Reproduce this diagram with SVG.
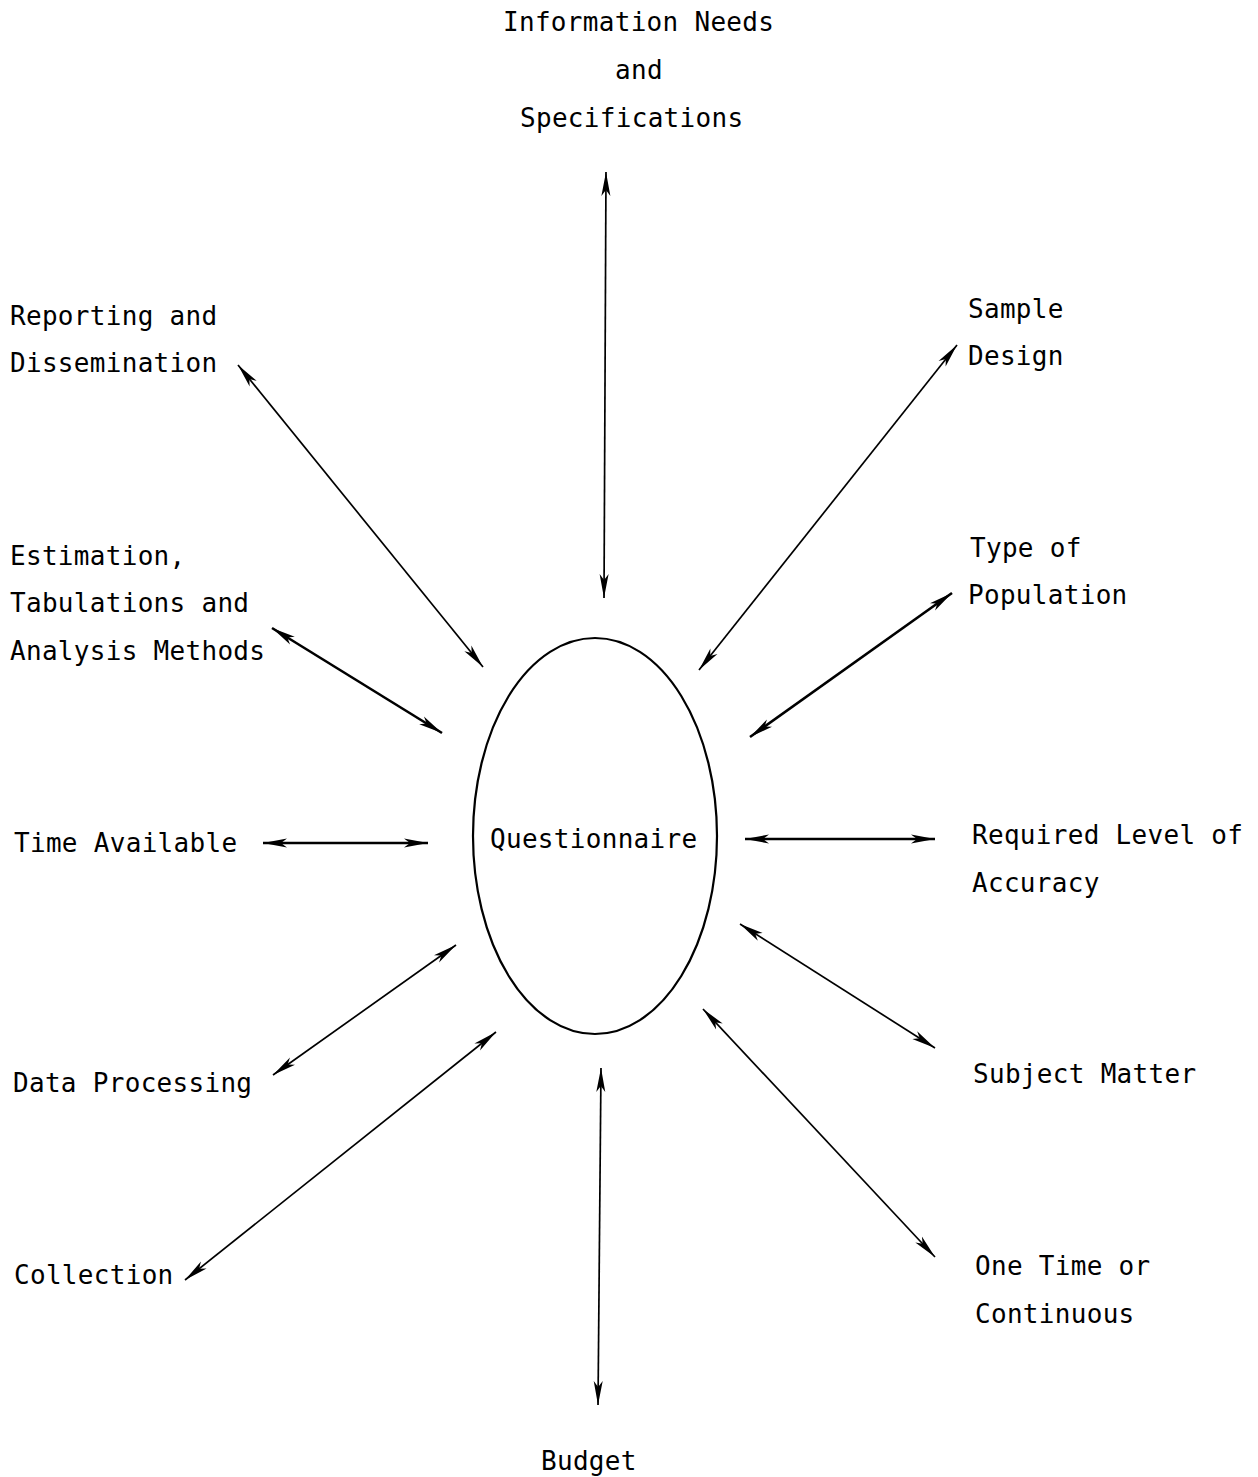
<svg xmlns="http://www.w3.org/2000/svg" width="1258" height="1477" viewBox="0 0 1258 1477">
<style>
text{font-family:"DejaVu Sans Mono","Liberation Mono",monospace;font-size:26px;letter-spacing:0.3px;fill:#000}
.c{stroke:#000;stroke-width:1.7;fill:none;marker-start:url(#ah);marker-end:url(#ah)}
.t{stroke-width:2.6}
</style>
<defs>
<marker id="ah" markerUnits="userSpaceOnUse" markerWidth="26" markerHeight="12" refX="24" refY="5" orient="auto-start-reverse">
<path d="M0,0.5 L24,5 L0,9.5 L6,5 Z" fill="#000"/>
</marker>
</defs>
<rect width="1258" height="1477" fill="#fff"/>
<g id="connectors">
<line class="c" x1="604" y1="598" x2="606" y2="172"/>
<line class="c" x1="483" y1="667" x2="238" y2="365"/>
<line class="c t" x1="442" y1="733" x2="272" y2="628"/>
<line class="c t" x1="428" y1="843" x2="263" y2="843"/>
<line class="c" x1="456" y1="945" x2="273" y2="1075"/>
<line class="c" x1="496" y1="1032" x2="185" y2="1280"/>
<line class="c" x1="601" y1="1068" x2="598" y2="1405"/>
<line class="c" x1="703" y1="1009" x2="935" y2="1257"/>
<line class="c" x1="740" y1="924" x2="935" y2="1048"/>
<line class="c t" x1="745" y1="839" x2="935" y2="839"/>
<line class="c t" x1="750" y1="737" x2="952" y2="593"/>
<line class="c" x1="699" y1="670" x2="957" y2="345"/>
</g>
<g id="questionnaire">
<ellipse cx="595" cy="836" rx="122" ry="198" fill="none" stroke="#000" stroke-width="2.2"/>
<text x="490" y="848">Questionnaire</text>
</g>
<g id="information-needs">
<text x="503" y="31">Information Needs</text>
<text x="615" y="79">and</text>
<text x="520" y="127">Specifications</text>
</g>
<g id="reporting">
<text x="10" y="325">Reporting and</text>
<text x="10" y="372">Dissemination</text>
</g>
<g id="estimation">
<text x="10" y="565">Estimation,</text>
<text x="10" y="612">Tabulations and</text>
<text x="10" y="660">Analysis Methods</text>
</g>
<g id="time-available">
<text x="14" y="852">Time Available</text>
</g>
<g id="data-processing">
<text x="13" y="1092">Data Processing</text>
</g>
<g id="collection">
<text x="14" y="1284">Collection</text>
</g>
<g id="budget">
<text x="541" y="1470">Budget</text>
</g>
<g id="sample-design">
<text x="968" y="318">Sample</text>
<text x="968" y="365">Design</text>
</g>
<g id="type-of-population">
<text x="970" y="557">Type of</text>
<text x="968" y="604">Population</text>
</g>
<g id="required-level">
<text x="972" y="844">Required Level of</text>
<text x="972" y="892">Accuracy</text>
</g>
<g id="subject-matter">
<text x="973" y="1083">Subject Matter</text>
</g>
<g id="one-time">
<text x="975" y="1275">One Time or</text>
<text x="975" y="1323">Continuous</text>
</g>
</svg>
